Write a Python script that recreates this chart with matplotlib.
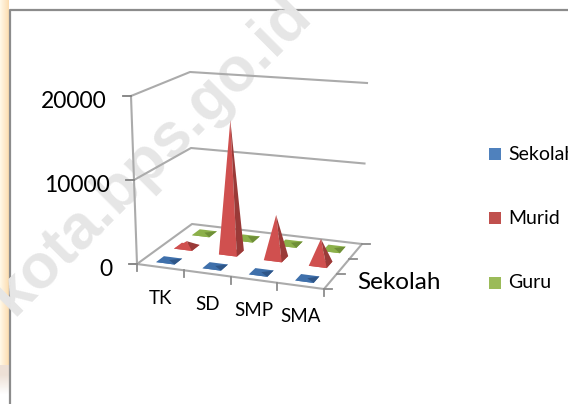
import numpy as np
import matplotlib
matplotlib.use("Agg")
import matplotlib.pyplot as plt
from matplotlib.patches import Polygon, Rectangle

plt.rcParams['font.family'] = ['Lato', 'DejaVu Sans']

categories = ['TK', 'SD', 'SMP', 'SMA']
series_names = ['Sekolah', 'Murid', 'Guru']
sekolah = [40, 60, 30, 20]
murid = [700, 16200, 5200, 2950]
guru = [80, 300, 120, 100]
y_ticks = [0, 10000, 20000]
depth_label = 'Sekolah'

colors = ['#4F81BD', '#C0504D', '#9BBB59']
front_cols = ['#3F70AB', '#D0504F', '#8CB04A']
side_cols = ['#2F5688', '#9A3A38', '#6F8F38']
zmax = 20000.0

# corners of the 3d box in pixels: floor and top plane
FL, FR, BR, BL = map(np.array, [(137, 264), (324, 289), (362, 244), (192, 224)])
TFL, TFR, TBR, TBL = map(np.array, [(131, 96), (325, 112), (367, 83), (190, 72)])


def project(u, v, z=0):
    # u across categories 0..4, v across series 0..3, z value
    u = u / len(categories)
    v = v / len(series_names)
    floor = (1 - v) * ((1 - u) * FL + u * FR) + v * ((1 - u) * BL + u * BR)
    top = (1 - v) * ((1 - u) * TFL + u * TFR) + v * ((1 - u) * TBL + u * TBR)
    return floor + (top - floor) * z / zmax


fig = plt.figure(figsize=(5.68, 4.04), dpi=100)
ax = fig.add_axes([0, 0, 1, 1])
ax.set_xlim(0, 568)
ax.set_ylim(404, 0)
ax.axis('off')

# page background strip on the left
strip = np.linspace(0, 1, 9).reshape(1, 9, 1)
strip = (1 - strip) * np.array([1.0, 0.97, 0.9]) + strip * np.array([0.99, 0.87, 0.7])
ax.imshow(strip, extent=(0, 9, 365, 0), aspect='auto', zorder=0)
ax.imshow(np.array([[[0.93, 0.88, 0.84]], [[1, 1, 1]]]), extent=(0, 9, 404, 365),
          aspect='auto', interpolation='bilinear', zorder=0)
ax.set_xlim(0, 568)
ax.set_ylim(404, 0)

# chart frame
ax.plot([9.5, 9.5, 568], [404, 9.5, 9.5], color='#8C8C8C', lw=1.6, zorder=1)

# watermark
ax.text(13, 317, 'kota.bps.go.id', rotation=45, rotation_mode='anchor', ha='left', va='baseline',
        fontsize=45, fontweight='bold', family=['Liberation Sans'], color='#E6E6E6', zorder=2)

gray = '#ABABAB'
# walls
for val in y_ticks:
    pts = [project(0, 0, val), project(0, 3, val), project(4, 3, val)]
    if val == 0:
        pts.append(project(4, 0, val))
        pts.append(project(0, 0, val))
    ax.plot([p[0] for p in pts], [p[1] for p in pts], color=gray, lw=1.5, zorder=3)
p0, p1 = project(0, 0, 0), project(0, 0, y_ticks[-1])
ax.plot([p0[0], p1[0]], [p0[1], p1[1]], color=gray, lw=1.5, zorder=3)

# value axis ticks and labels
for val in y_ticks:
    p = project(0, 0, val)
    ax.plot([p[0] - 8, p[0]], [p[1], p[1]], color='#7F7F7F', lw=1.3, zorder=3)
    ax.text(p[0] - 24, p[1] + 5, str(val), ha='right', va='center', fontsize=16.5, color='black', zorder=6)

# category ticks and labels
for i in range(len(categories) + 1):
    p = project(i, 0)
    ax.plot([p[0], p[0]], [p[1], p[1] + 7], color='#8C8C8C', lw=1.3, zorder=3)
for i, name in enumerate(categories):
    p = project(i + 0.5, 0)
    ax.text(p[0], p[1] + 31, name, ha='center', va='center', fontsize=13.5, color='black', zorder=6)

# depth ticks and label
for i in range(len(series_names) + 1):
    p = project(4, i)
    ax.plot([p[0], p[0] + 8], [p[1], p[1]], color='#8C8C8C', lw=1.3, zorder=3)
p = project(4, 0.5)
ax.text(p[0] + 27, p[1] + 1, depth_label, ha='left', va='center', fontsize=17.5, color='black', zorder=6)

# pyramids, back row first
du, dv = 0.2, 0.22
data = [sekolah, murid, guru]
for s in [2, 1, 0]:
    for k in range(len(categories)):
        val = data[s][k]
        uc, vc = k + 0.5, s + 0.5
        a = project(uc - du, vc - dv)
        b = project(uc + du, vc - dv)
        c = project(uc + du, vc + dv)
        apex = project(uc, vc, val)
        ax.add_patch(Polygon([a, b, c, project(uc - du, vc + dv)], closed=True, fc=front_cols[s], ec='none', zorder=4))
        ax.add_patch(Polygon([a, b, apex], closed=True, fc=front_cols[s], ec='none', zorder=4.1))
        ax.add_patch(Polygon([b, c, apex], closed=True, fc=side_cols[s], ec='none', zorder=4.2))

# legend
legend_y = [154, 218, 283]
for name, col, ly in zip(series_names, colors, legend_y):
    ax.add_patch(Rectangle((489, ly - 6), 12, 12, fc=col, ec='none', zorder=6))
    ax.text(508, ly, name, ha='left', va='center', fontsize=14, color='black', zorder=6)

fig.savefig('out.png', dpi=100)
